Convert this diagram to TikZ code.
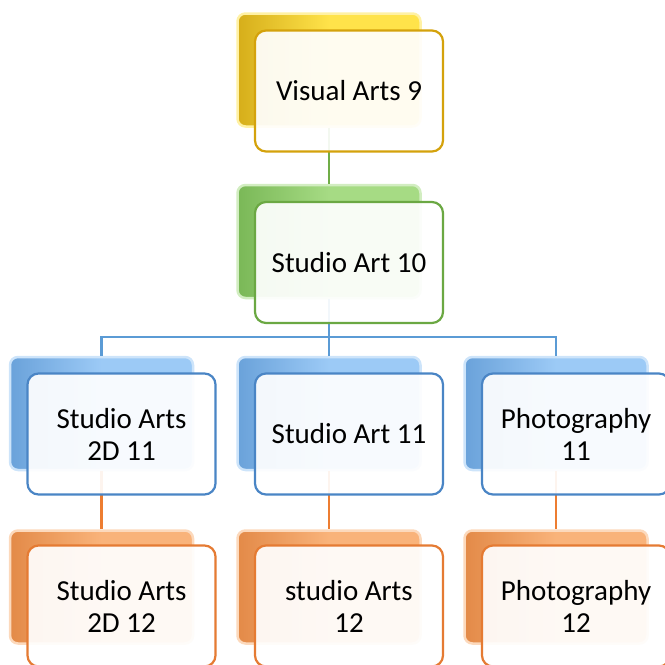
\documentclass[tikz,border=0pt]{standalone}
\usepackage{fontspec}
\setmainfont{Carlito}
\definecolor{ylight}{HTML}{FFE34A}
\definecolor{ydark}{HTML}{D6AE1A}
\definecolor{yborder}{HTML}{D4A20C}
\definecolor{glight}{HTML}{A6DB84}
\definecolor{gdark}{HTML}{7AB857}
\definecolor{gborder}{HTML}{6BA843}
\definecolor{blight}{HTML}{9CCAF6}
\definecolor{bdark}{HTML}{6AA2DA}
\definecolor{bborder}{HTML}{4A85C5}
\definecolor{olight}{HTML}{F9B37A}
\definecolor{odark}{HTML}{E38A48}
\definecolor{oborder}{HTML}{E57B33}
\definecolor{gline}{HTML}{70AD47}
\definecolor{bline}{HTML}{5B9BD5}
\definecolor{oline}{HTML}{ED7D31}
\begin{document}
\begin{tikzpicture}[x=1pt,y=-1pt,
  backbox/.style={rounded corners=8pt, minimum width=183pt, minimum height=113pt, inner sep=0pt, line width=2.5pt},
  yback/.style={backbox, draw=ylight!50, left color=ydark, right color=ylight, middle color=ylight},
  gback/.style={backbox, draw=glight!50, left color=gdark, right color=glight, middle color=glight},
  bback/.style={backbox, draw=blight!50, left color=bdark, right color=blight, middle color=blight},
  oback/.style={backbox, draw=olight!50, left color=odark, right color=olight, middle color=olight},
  frontbox/.style={rounded corners=11pt, minimum width=188pt, minimum height=121pt, inner sep=0pt,
    line width=2.2pt, fill=white, fill opacity=0.92, text opacity=1, align=center,
    font=\fontsize{29}{32}\selectfont},
  conn/.style={line width=2.6pt}
]
\useasboundingbox (0,0) rectangle (665,665);
% back boxes
\node[yback] (b1) at (329,70) {};
\node[gback] (b2) at (329,241.5) {};
\node[bback] (b3a) at (101.5,413.5) {};
\node[bback] (b3b) at (329,413.5) {};
\node[bback] (b3c) at (556,413.5) {};
\node[oback] (b4a) at (101.5,587) {};
\node[oback] (b4b) at (329,587) {};
\node[oback] (b4c) at (556,587) {};
% connectors
\coordinate (j) at (329,337);
\draw[conn, gline] (b1.south) -- (b2.north);
\draw[conn, bline] (b2.south) -- (j);
\draw[conn, bline] (j) -| (b3a.north);
\draw[conn, bline] (j) -| (b3c.north);
\draw[conn, bline] (j) -- (b3b.north);
\draw[conn, oline] (b3a.south) -- (b4a.north);
\draw[conn, oline] (b3b.south) -- (b4b.north);
\draw[conn, oline] (b3c.south) -- (b4c.north);
% front boxes
\node[frontbox, draw=yborder] (f1) at (349,91) {Visual Arts 9};
\node[frontbox, draw=gborder] (f2) at (349,262.5) {Studio Art 10};
\node[frontbox, draw=bborder] (f3a) at (121.5,434) {Studio Arts\\2D 11};
\node[frontbox, draw=bborder] (f3b) at (349,434) {Studio Art 11};
\node[frontbox, draw=bborder] (f3c) at (576,434) {Photography\\11};
\node[frontbox, draw=oborder] (f4a) at (121.5,606) {Studio Arts\\2D 12};
\node[frontbox, draw=oborder] (f4b) at (349,606) {studio Arts\\12};
\node[frontbox, draw=oborder] (f4c) at (576,606) {Photography\\12};
\end{tikzpicture}
\end{document}
